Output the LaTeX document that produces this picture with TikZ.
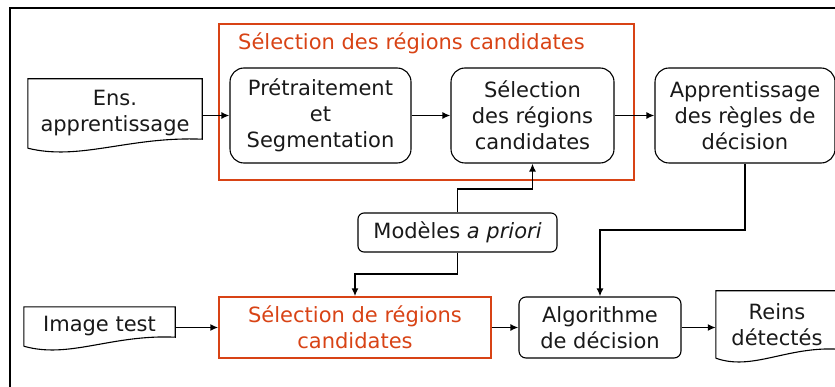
\documentclass[tikz,border=0pt]{standalone}
\usepackage{fontspec}
\setmainfont{DejaVu Sans}
\usetikzlibrary{arrows.meta,calc}

\definecolor{selred}{RGB}{216,67,21}

\newcommand{\docoutline}[1]{%
\draw [black,line width=1.1pt] (#1.south west) -- (#1.north west) -- (#1.north east)
  -- ([yshift=9pt]#1.south east)
  .. controls ([yshift=12pt]$(#1.south east)!0.42!(#1.south west)$)
  and ([yshift=-13pt]$(#1.south east)!0.7!(#1.south west)$) .. (#1.south west);}

\begin{document}
\begin{tikzpicture}[x=1pt,y=-1pt,>={Latex[length=8pt,width=7pt]},
  every node/.style={font=\fontsize{21}{26}\selectfont,text=black!90,align=center,inner sep=0pt},
  doc/.style={minimum width=#1},
  stepbox/.style={draw=black,line width=1.1pt,rounded corners=14pt,minimum width=#1,minimum height=95},
  smallbox/.style={draw=black,line width=1.1pt,rounded corners=7pt,minimum width=#1,minimum height=61},
  redbox/.style={draw=selred,line width=1.4pt},
  link/.style={->,black,line width=1.7pt}]
\path [use as bounding box] (0,0) rectangle (835,387);
\clip (0,0) rectangle (835,387);
\draw [black,line width=1.5pt] (10,8) rectangle (860,410);
\draw [redbox] (219,24) rectangle (634,180);
\node [anchor=west,text=selred] (title) at (238,43) {Sélection des régions candidates};
\node [doc=174,minimum height=69] (ens) at (115,113.5) {Ens.\\apprentissage};
\docoutline{ens}
\node [stepbox=181] (pre) at (320.5,115.5) {Prétraitement\\et\\Segmentation};
\node [stepbox=163] (sel) at (532.5,115.5) {Sélection\\des régions\\candidates};
\node [stepbox=180] (app) at (745,115.5) {Apprentissage\\des règles de\\décision};
\node [smallbox=199,minimum height=39,rounded corners=6pt] (mod) at (457.5,232.5) {Modèles \textit{a priori}};
\node [doc=151,minimum height=39] (img) at (99.5,326.5) {Image test};
\docoutline{img}
\node [redbox,minimum width=272,minimum height=61,text=selred] (rb) at (355,327.5) {Sélection de régions\\candidates};
\node [smallbox=162] (alg) at (600,327.5) {Algorithme\\de décision};
\node [doc=122,minimum height=67] (reins) at (777,324.5) {Reins\\détectés};
\docoutline{reins}
\coordinate (j1) at (457.5,189);
\coordinate (j2) at (457.5,274);
\coordinate (j3) at (745,230);
\draw [link] (ens.east |- pre.west) -- (pre.west);
\draw [link] (pre) -- (sel);
\draw [link] (sel) -- (app);
\draw [link] (mod.north) -- (j1) -| (sel.south);
\draw [link] (mod.south) -- (j2) -| (rb.north);
\draw [link] (app.south) -- (j3) -| (alg.north);
\draw [link] (img.east |- rb.west) -- (rb.west);
\draw [link] (rb) -- (alg);
\draw [link] (alg.east) -- (reins.west |- alg.east);
\end{tikzpicture}
\end{document}
